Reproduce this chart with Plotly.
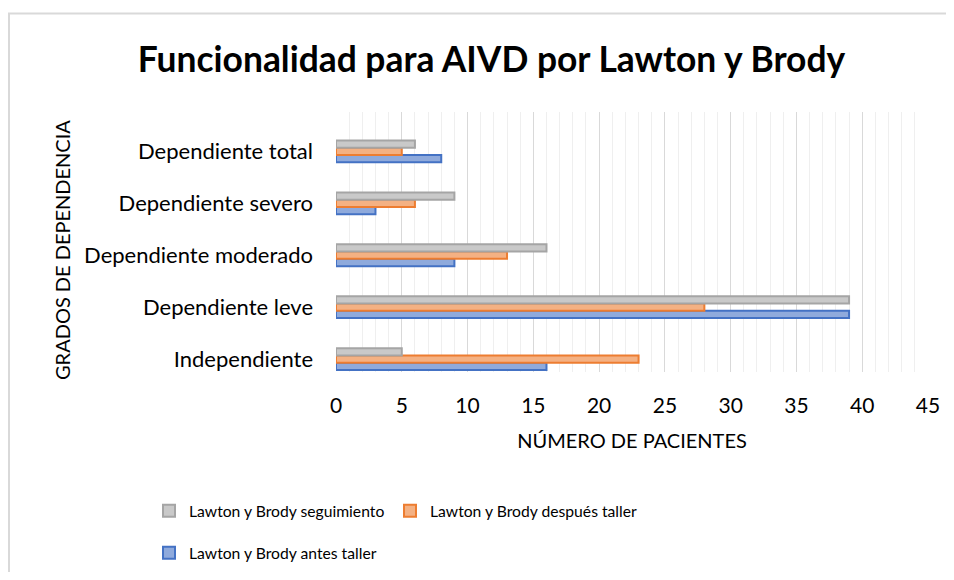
import plotly.graph_objects as go

categories = ["Independiente", "Dependiente leve", "Dependiente moderado",
              "Dependiente severo", "Dependiente total"]
antes = [16, 39, 9, 3, 8]
despues = [23, 28, 13, 6, 5]
seguimiento = [5, 39, 16, 9, 6]
x_ticks = [0, 5, 10, 15, 20, 25, 30, 35, 40, 45]

FONT = "Lato"
W, H = 938, 564
L, R, T, B = 328, 18, 104, 200
PW, PH = W - L - R, H - T - B

fig = go.Figure()
fig.add_trace(go.Bar(
    y=categories, x=antes, orientation="h", name="Lawton y Brody antes taller",
    marker=dict(color="#8faadc", line=dict(color="#4472c4", width=2)),
    legend="legend2"))
fig.add_trace(go.Bar(
    y=categories, x=despues, orientation="h", name="Lawton y Brody después taller",
    marker=dict(color="#f4b183", line=dict(color="#ed7d31", width=2)),
    legend="legend3"))
fig.add_trace(go.Bar(
    y=categories, x=seguimiento, orientation="h", name="Lawton y Brody seguimiento",
    marker=dict(color="#c9c9c9", line=dict(color="#a5a5a5", width=2)),
    legend="legend"))

leg_common = dict(orientation="h", xanchor="left", yanchor="middle",
                  bgcolor="rgba(0,0,0,0)",
                  font=dict(size=15.7, family=FONT), itemwidth=30, visible=True)

row1 = 503
row2 = 545
col1 = 141
col2 = 382

fig.update_layout(
    width=W, height=H,
    margin=dict(l=L, r=R, t=T, b=B, autoexpand=False),
    paper_bgcolor="white", plot_bgcolor="white",
    barmode="group", bargap=0.58, bargroupgap=0,
    showlegend=True,
    font=dict(family=FONT, color="#000000"),
    title=dict(text="<b>Funcionalidad para AIVD por Lawton y Brody</b>",
               x=483.5 / W, xanchor="center", y=1 - 52 / H, yanchor="middle",
               font=dict(size=35.4, family=FONT, color="#000000")),
    xaxis=dict(range=[0, 45], tickvals=x_ticks, ticktext=[str(v) for v in x_ticks],
               showgrid=True, gridcolor="#d9d9d9", gridwidth=1.3,
               minor=dict(dtick=1, showgrid=True, gridcolor="#efefef", gridwidth=1),
               zeroline=False, showline=False, ticks="", ticklabelstandoff=19,
               tickfont=dict(size=21, family=FONT),
               title=dict(text="NÚMERO DE PACIENTES", font=dict(size=20, family=FONT),
                          standoff=17)),
    yaxis=dict(type="category", categoryorder="array", categoryarray=categories,
               range=[-0.25, 4.76], showgrid=False, zeroline=False,
               showline=False, ticks="", ticklabelstandoff=22,
               tickfont=dict(size=22, family=FONT)),
    legend=dict(x=(col1 - L) / PW, y=-(row1 - (T + PH)) / PH, **leg_common),
    legend3=dict(x=(col2 - L) / PW, y=-(row1 - (T + PH)) / PH, **leg_common),
    legend2=dict(x=(col1 - L) / PW, y=-(row2 - (T + PH)) / PH, **leg_common),
    annotations=[dict(text="GRADOS DE DEPENDENCIA", textangle=-90,
                      xref="paper", yref="paper",
                      x=(54 - L) / PW, y=((T + PH) - 242) / PH,
                      xanchor="center", yanchor="middle", showarrow=False,
                      font=dict(size=20, family=FONT, color="#000000"))],
    shapes=[dict(type="rect", xref="paper", yref="paper",
                 x0=(1 - L) / PW, x1=(W + 30 - L) / PW,
                 y0=-(H + 30 - (T + PH)) / PH, y1=((T + PH) - 5.5) / PH,
                 line=dict(color="#d9d9d9", width=2), fillcolor="rgba(0,0,0,0)",
                 layer="below")],
)
fig.write_html("out.html")
